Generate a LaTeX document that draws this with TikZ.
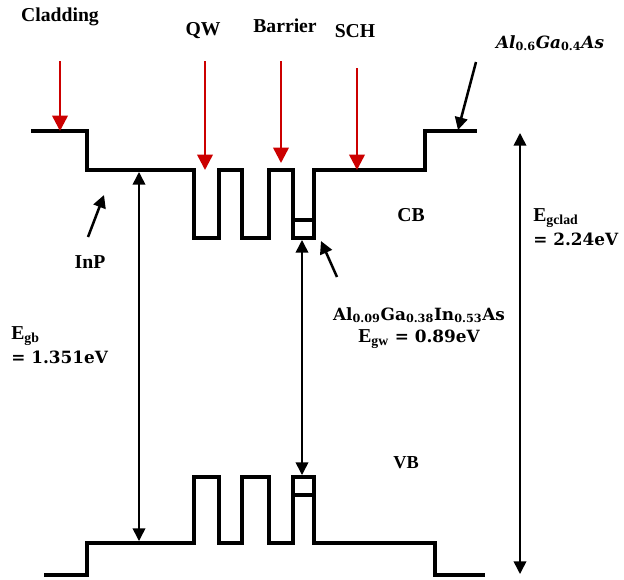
\documentclass[tikz,border=0pt]{standalone}
\usepackage{fontspec}
\setmainfont{Liberation Serif}
\newfontfamily\eqfont{DejaVu Serif}
\usetikzlibrary{arrows.meta}

\tikzset{
    band/.style={line width=2.8pt, line join=miter},
    redarrow/.style={draw=red!80!black, line width=1.8pt, -{Triangle[length=11pt,width=11pt]}},
    gaparrow/.style={line width=1.1pt, {Triangle[length=9pt,width=9pt]}-{Triangle[length=9pt,width=9pt]}},
    labelarrow/.style={line width=1.8pt, -{Triangle[length=9pt,width=9pt]}},
    lbl/.style={font=\fontsize{14}{16}\selectfont\bfseries, inner sep=0pt},
    eqlbl/.style={font=\fontsize{12}{15}\selectfont\bfseries\eqfont, inner sep=0pt}
}

\begin{document}
\begin{tikzpicture}[x=0.025cm, y=-0.025cm]
    \useasboundingbox (0,0) rectangle (624,579);

    % conduction band
    \draw[band] (31,131) -- (87,131) -- (87,170) -- (194,170) -- (194,238) -- (219,238) -- (219,170)
        -- (242,170) -- (242,238) -- (269,238) -- (269,170) -- (293,170) -- (293,238) -- (314,238)
        -- (314,170) -- (425,170) -- (425,131) -- (477,131);
    \draw[band] (293,220) -- (314,220);

    % valence band
    \draw[band] (44,575) -- (87,575) -- (87,543) -- (194,543) -- (194,477) -- (219,477) -- (219,543)
        -- (242,543) -- (242,477) -- (269,477) -- (269,543) -- (293,543) -- (293,477) -- (314,477)
        -- (314,543) -- (435,543) -- (435,575) -- (485,575);
    \draw[band] (293,495) -- (314,495);

    % layer labels
    \node[lbl] (clad) at (60,17) {Cladding};
    \node[lbl] (qw) at (203,31) {QW};
    \node[lbl] (barrier) at (285,26) {Barrier};
    \node[lbl] (sch) at (355,31) {SCH};
    \node[eqlbl] (algaas) at (550,43) {\itshape Al\textsubscript{\upshape 0.6}Ga\textsubscript{\upshape 0.4}As};
    \node[lbl] (inp) at (90,262) {InP};
    \node[lbl] (cb) at (411,215) {CB};
    \node[lbl, font=\fontsize{13}{15}\selectfont\bfseries] (vb) at (406,463) {VB};
    \node[eqlbl, align=center] (well) at (419,328)
        {Al\textsubscript{0.09}Ga\textsubscript{0.38}In\textsubscript{0.53}As\\[1pt]
         {\rmfamily\fontsize{14}{15}\selectfont E\textsubscript{gw}} = 0.89eV};
    \node[lbl, align=left, anchor=north west] (egb) at (11,326)
        {E\textsubscript{gb}\\[1pt] {\eqfont\fontsize{12}{15}\selectfont = 1.351eV}};
    \node[lbl, align=left, anchor=north west] (egclad) at (533,208)
        {E\textsubscript{gclad}\\[1pt] {\eqfont\fontsize{12}{15}\selectfont = 2.24eV}};

    % arrow ends
    \coordinate (cladS) at (60,61);   \coordinate (cladE) at (60,131);
    \coordinate (qwS) at (205,61);    \coordinate (qwE) at (205,170);
    \coordinate (barS) at (281,61);   \coordinate (barE) at (281,163);
    \coordinate (schS) at (357,68);   \coordinate (schE) at (357,170);
    \coordinate (algaasS) at (476,62); \coordinate (algaasE) at (458,130);
    \coordinate (inpS) at (88,237);   \coordinate (inpE) at (104,195);
    \coordinate (wellS) at (337,277); \coordinate (wellE) at (321,241);
    \coordinate (gbT) at (139,172);   \coordinate (gbB) at (139,541);
    \coordinate (gwT) at (302,240);   \coordinate (gwB) at (302,475);
    \coordinate (gcT) at (520,133);   \coordinate (gcB) at (520,574);

    \draw[redarrow] (cladS) -- (cladE);
    \draw[redarrow] (qwS) -- (qwE);
    \draw[redarrow] (barS) -- (barE);
    \draw[redarrow] (schS) -- (schE);

    \draw[labelarrow] (algaasS) -- (algaasE);
    \draw[labelarrow] (inpS) -- (inpE);
    \draw[labelarrow] (wellS) -- (wellE);

    \draw[gaparrow] (gbT) -- (gbB);
    \draw[gaparrow] (gwT) -- (gwB);
    \draw[gaparrow] (gcT) -- (gcB);
\end{tikzpicture}
\end{document}
